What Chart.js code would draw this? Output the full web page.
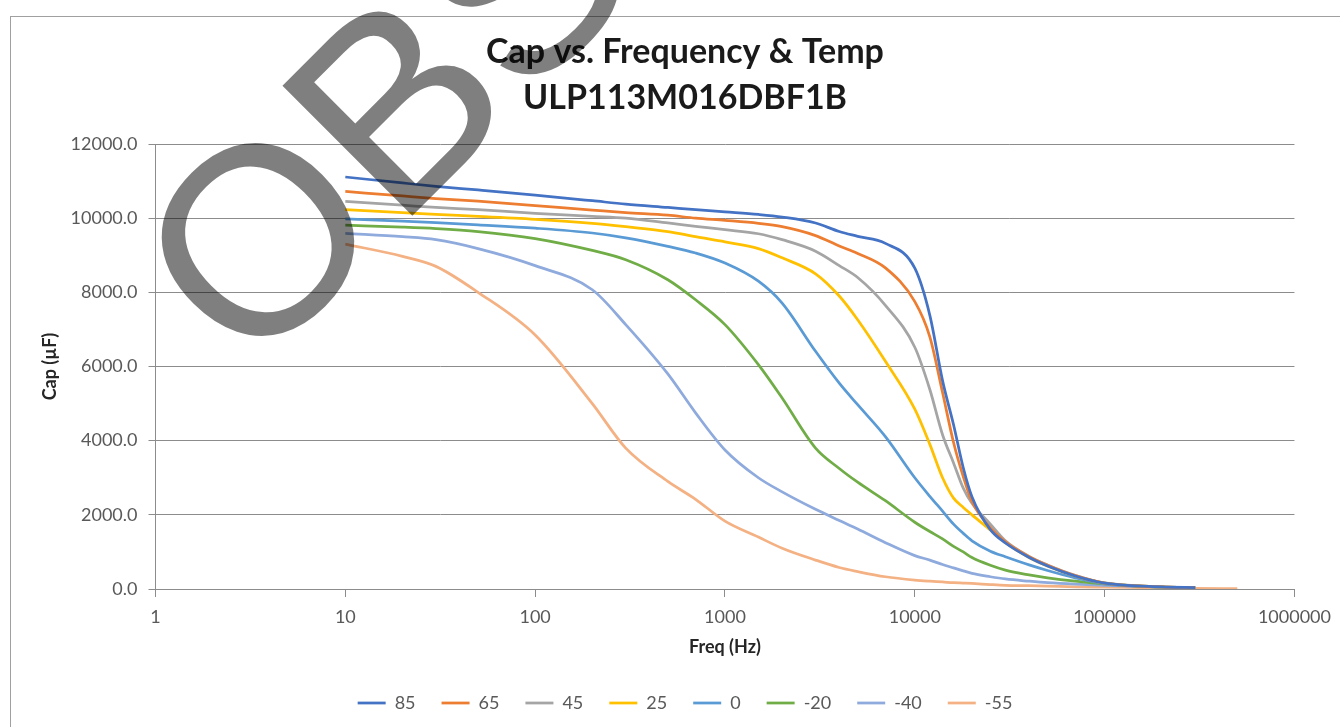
<!DOCTYPE html>
<html>
<head>
<meta charset="utf-8">
<title>Cap vs. Frequency &amp; Temp</title>
<script src="https://cdn.jsdelivr.net/npm/chart.js@4.4.1/dist/chart.umd.min.js"></script>
<style>
  html, body { margin: 0; padding: 0; background: #ffffff; }
  #wrap { width: 1340px; height: 727px; }
</style>
</head>
<body>
<div id="wrap"><canvas id="capChart" width="1340" height="727"></canvas></div>
<script>
// Frequencies (Hz) where the curves were read
const freqs = [10, 20, 30, 50, 100, 200, 300, 500, 700, 1000, 1500, 2000, 3000, 4000, 5000, 7000,
    10000, 12000, 14000, 16000, 18000, 20000, 25000, 30000, 40000, 50000, 70000, 100000, 200000, 300000, 500000];

// Capacitance (uF) per temperature
const cap85 = [11110, 10950, 10860, 10760, 10620, 10470, 10380, 10290, 10230, 10170, 10100, 10030, 9870, 9640, 9510, 9320,
    8650, 7380, 5620, 4430, 3270, 2490, 1600, 1240, 850, 620, 350, 160, 60, 40, null];
const cap65 = [10720, 10600, 10530, 10460, 10340, 10220, 10150, 10080, 10000, 9940, 9860, 9770, 9530, 9250, 9050, 8660,
    7750, 6800, 5300, 3950, 3030, 2360, 1650, 1270, 870, 640, 360, 160, 60, 40, null];
const cap45 = [10450, 10350, 10290, 10230, 10130, 10050, 10000, 9870, 9780, 9690, 9580, 9420, 9110, 8720, 8400, 7650,
    6520, 5380, 4160, 3400, 2720, 2310, 1750, 1300, 880, 650, 370, 165, 60, 40, null];
const cap25 = [10230, 10150, 10100, 10050, 9970, 9860, 9770, 9640, 9500, 9360, 9180, 8930, 8500, 7900, 7260, 6140,
    4850, 3900, 3000, 2450, 2200, 2000, 1590, 1250, 850, 620, 350, 160, 55, 35, null];
const cap0 = [9980, 9920, 9880, 9820, 9730, 9600, 9470, 9240, 9060, 8790, 8300, 7710, 6410, 5550, 4970, 4110,
    3000, 2500, 2100, 1750, 1500, 1300, 1020, 870, 650, 500, 300, 140, 50, 30, null];
const capM20 = [9810, 9760, 9720, 9640, 9450, 9130, 8880, 8340, 7800, 7130, 6050, 5150, 3800, 3250, 2880, 2380,
    1800, 1550, 1350, 1150, 1000, 850, 640, 510, 380, 300, 210, 140, 50, 30, null];
const capM40 = [9590, 9500, 9420, 9180, 8720, 8070, 7130, 5800, 4750, 3750, 3000, 2620, 2150, 1850, 1620, 1250,
    900, 780, 660, 570, 490, 420, 330, 270, 210, 170, 130, 100, 60, 40, null];
const capM55 = [9300, 8970, 8700, 8000, 6850, 5000, 3800, 2900, 2420, 1830, 1400, 1100, 780, 580, 470, 330,
    240, 210, 190, 170, 160, 150, 120, 100, 90, 80, 60, 50, 30, 20, 10];

const temps = ['85', '65', '45', '25', '0', '-20', '-40', '-55'];
const capSeries = [cap85, cap65, cap45, cap25, cap0, capM20, capM40, capM55];
const seriesColors = ['#4472C4', '#ED7D31', '#A5A5A5', '#FFC000', '#5B9BD5', '#70AD47', '#8FAADC', '#F4B183'];
const xTickValues = [1, 10, 100, 1000, 10000, 100000, 1000000];

const gridGrey = '#8c8c8c';
const labelGrey = '#595959';

// Turn one temperature's values into {x, y} points
function toPoints(values) {
    const pts = [];
    freqs.forEach((f, i) => {
        if (values[i] !== null) pts.push({ x: f, y: values[i] });
    });
    return pts;
}

// White background and the outer chart frame
const frame = {
    id: 'frame',
    beforeDraw(chart) {
        const ctx = chart.ctx;
        ctx.save();
        ctx.fillStyle = '#ffffff';
        ctx.fillRect(0, 0, chart.width, chart.height);
        ctx.strokeStyle = '#a0a0a0';
        ctx.lineWidth = 1;
        ctx.strokeRect(10.5, 16.5, chart.width + 40, chart.height + 40);
        ctx.restore();
    }
};

// The grey "OBSOLETE" stamp over the top left corner
const stamp = {
    id: 'stamp',
    afterDraw(chart) {
        const ctx = chart.ctx;
        ctx.save();
        ctx.translate(250, 378);
        ctx.rotate(-Math.PI / 4);
        ctx.font = '267px "Liberation Sans"';
        ctx.fillStyle = 'rgba(0, 0, 0, 0.5)';
        ctx.textAlign = 'left';
        ctx.textBaseline = 'alphabetic';
        ctx.fillText('OBSOLETE', 0, 0);
        ctx.restore();
    }
};

Chart.defaults.font.family = 'Lato';

const ctx = document.getElementById('capChart').getContext('2d');
const chart = new Chart(ctx, {
    type: 'line',
    data: {
        datasets: temps.map((t, i) => ({
            label: t,
            data: toPoints(capSeries[i]),
            borderColor: seriesColors[i],
            backgroundColor: seriesColors[i],
            borderWidth: 2.75,
            pointRadius: 0,
            fill: false,
            cubicInterpolationMode: 'monotone'
        }))
    },
    options: {
        responsive: false,
        animation: false,
        layout: { padding: { top: 16, left: 71, right: 41, bottom: 5 } },
        plugins: {
            title: {
                display: true,
                text: ['Cap vs. Frequency & Temp', 'ULP113M016DBF1B'],
                color: '#1a1a1a',
                font: { family: 'Lato', size: 34, weight: 'bold', lineHeight: '46px' },
                padding: { top: 13, bottom: 23 }
            },
            legend: {
                position: 'bottom',
                labels: {
                    usePointStyle: true,
                    pointStyle: 'line',
                    pointStyleWidth: 28,
                    padding: 26,
                    color: labelGrey,
                    font: { size: 18 }
                }
            },
            tooltip: { enabled: false }
        },
        scales: {
            x: {
                type: 'logarithmic',
                min: 1,
                max: 1000000,
                afterBuildTicks: (scale) => {
                    scale.ticks = xTickValues.map(v => ({ value: v }));
                },
                afterFit: (scale) => { scale.height = 79; },
                ticks: {
                    color: labelGrey,
                    font: { size: 18 },
                    padding: 9,
                    maxRotation: 0,
                    autoSkip: false,
                    callback: (v) => String(Math.round(v))
                },
                grid: { drawOnChartArea: false, drawTicks: true, tickLength: 8, color: gridGrey },
                border: { color: gridGrey },
                title: {
                    display: true,
                    text: 'Freq (Hz)',
                    color: '#262626',
                    font: { size: 18, weight: 'bold' },
                    padding: { top: 0, bottom: 10 }
                }
            },
            y: {
                min: 0,
                max: 12000,
                afterFit: (scale) => { scale.width = 84.5; },
                ticks: {
                    stepSize: 2000,
                    color: labelGrey,
                    font: { size: 18 },
                    padding: 11,
                    callback: (v) => v.toFixed(1)
                },
                grid: { color: gridGrey, tickLength: 7 },
                border: { color: gridGrey },
                title: {
                    display: true,
                    text: 'Cap (µF)',
                    color: '#262626',
                    font: { size: 18, weight: 'bold' },
                    padding: { top: -32, bottom: 0 }
                }
            }
        }
    },
    plugins: [frame, stamp]
});
</script>
</body>
</html>
